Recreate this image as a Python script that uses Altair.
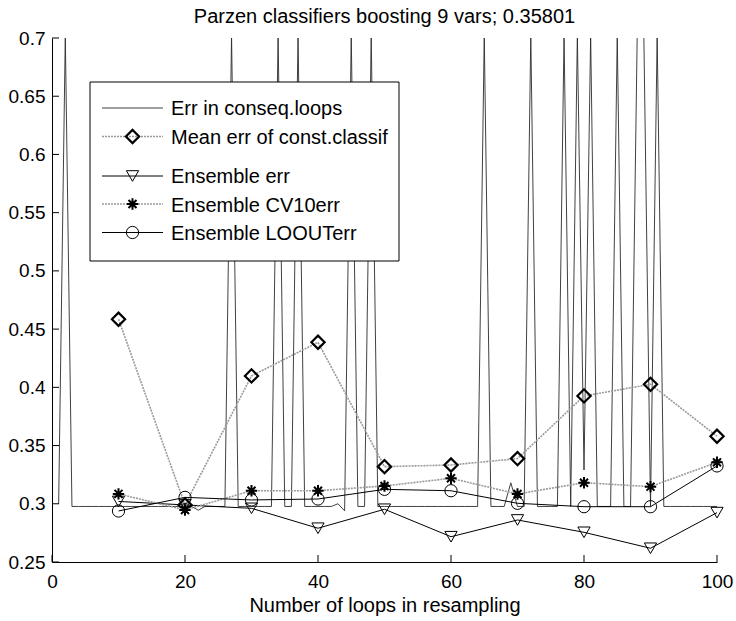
import altair as alt
import pandas as pd

FONT = "Liberation Sans"

# ---- data ----
ens_loops = [10, 20, 30, 40, 50, 60, 70, 80, 90, 100]
mean_err = [0.4585, 0.2990, 0.4098, 0.4387, 0.3319, 0.3333, 0.3388, 0.3926, 0.4026, 0.3580]
ens_err = [0.3020, 0.2990, 0.2961, 0.2790, 0.2953, 0.2717, 0.2861, 0.2755, 0.2618, 0.2924]
cv10_err = [0.3085, 0.2947, 0.3112, 0.3112, 0.3153, 0.3219, 0.3084, 0.3181, 0.3147, 0.3356]
loo_err = [0.2938, 0.3055, 0.3033, 0.3041, 0.3124, 0.3112, 0.3004, 0.2975, 0.2975, 0.3325]

conseq_loops = list(range(1, 101))
conseq_err = [
    0.3000, 0.7023, 0.2977, 0.2977, 0.2977, 0.2977, 0.2977, 0.2977, 0.2977, 0.2977,
    0.2977, 0.2977, 0.2977, 0.2977, 0.2977, 0.2977, 0.2977, 0.2977, 0.2977, 0.2977,
    0.2977, 0.2945, 0.2977, 0.2977, 0.2977, 0.2977, 0.7023, 0.2977, 0.2977, 0.2977,
    0.2977, 0.2977, 0.2977, 0.7023, 0.2977, 0.2977, 0.7023, 0.2977, 0.2977, 0.2977,
    0.2977, 0.2977, 0.3000, 0.2940, 0.7023, 0.2977, 0.2977, 0.7023, 0.2977, 0.2977,
    0.2977, 0.2977, 0.2977, 0.2977, 0.2977, 0.2977, 0.2977, 0.2977, 0.2977, 0.2977,
    0.2977, 0.2977, 0.2977, 0.2977, 0.7023, 0.2977, 0.2977, 0.2977, 0.3180, 0.2977,
    0.2977, 0.7023, 0.2977, 0.2977, 0.2977, 0.2977, 0.7023, 0.2977, 0.7023, 0.3290,
    0.7023, 0.2977, 0.2977, 0.2977, 0.7023, 0.2977, 0.2977, 0.7023, 0.7023, 0.2977,
    0.7023, 0.2977, 0.2977, 0.2977, 0.2977, 0.2977, 0.2977, 0.2977, 0.2977, 0.2977,
]

x_ticks = [0, 20, 40, 60, 80, 100]
y_ticks = [0.25, 0.3, 0.35, 0.4, 0.45, 0.5, 0.55, 0.6, 0.65, 0.7]

title_text = "Parzen classifiers boosting 9 vars; 0.35801"
x_title = "Number of loops in resampling"
legend_labels = ["Err in conseq.loops", "Mean err of const.classif",
                 "Ensemble err", "Ensemble CV10err", "Ensemble LOOUTerr"]

W, H = 665, 524

# ---- tables ----
ens_df = pd.DataFrame({
    "loop": ens_loops * 4,
    "series": ["mean"] * 10 + ["ens"] * 10 + ["cv10"] * 10 + ["loo"] * 10,
    "value": mean_err + ens_err + cv10_err + loo_err,
})
conseq_df = pd.DataFrame({"loop": conseq_loops, "value": conseq_err})

xs = alt.Scale(domain=[0, 100], nice=False, zero=False)
ys = alt.Scale(domain=[0.25, 0.7], nice=False, zero=False)

X = alt.X("loop:Q", scale=xs,
          axis=alt.Axis(values=x_ticks, format="d", title=x_title, grid=False,
                        ticks=False, domainColor="black", domainWidth=1,
                        labelFlush=False, labelOverlap=False,
                        titleY=49, titleBaseline="alphabetic", labelPadding=10))
Y = alt.Y("value:Q", scale=ys,
          axis=alt.Axis(values=y_ticks, format=".2~f", title=None, grid=False,
                        ticks=False, domainColor="black", domainWidth=1,
                        labelFlush=False, labelOverlap=False, labelPadding=7))

STAR = "M-1,0L1,0M0,-1L0,1M-0.7,-0.7L0.7,0.7M-0.7,0.7L0.7,-0.7"

conseq_line = alt.Chart(conseq_df).mark_line(
    color="#2b2b2b", strokeWidth=0.9, clip=True
).encode(x=X, y=Y)


def series_layers(key, line_kw, point_kw):
    base = alt.Chart(ens_df).transform_filter(alt.datum.series == key)
    ln = base.mark_line(**line_kw).encode(x=X, y=Y)
    pt = base.mark_point(filled=False, color="black", opacity=1, **point_kw).encode(x=X, y=Y)
    return [ln, pt]


GRAY_DOT = dict(color="#9a9a9a", strokeWidth=1.6, strokeDash=[2, 1])
BLACK = dict(color="black", strokeWidth=1.0)
DIAMOND = dict(shape="diamond", size=175, strokeWidth=2.2)
TRI = dict(shape="triangle-down", size=150, strokeWidth=1.0)
STARM = dict(shape=STAR, size=130, strokeWidth=2.0)
CIRC = dict(shape="circle", size=150, strokeWidth=1.0)

mean_l = series_layers("mean", GRAY_DOT, DIAMOND)
ens_l = series_layers("ens", BLACK, TRI)
cv_l = series_layers("cv10", GRAY_DOT, STARM)
loo_l = series_layers("loo", BLACK, CIRC)

# inward tick marks
ytick_df = pd.DataFrame({"value": y_ticks})
xtick_df = pd.DataFrame({"loop": x_ticks})
ytick_layer = alt.Chart(ytick_df).mark_rule(color="black", strokeWidth=1).encode(
    y=Y, x=alt.value(0), x2=alt.value(7))
xtick_layer = alt.Chart(xtick_df).mark_rule(color="black", strokeWidth=1).encode(
    x=X, y=alt.value(H), y2=alt.value(H - 7))

# ---- legend and title drawn in pixel space of the plot ----
one = pd.DataFrame({"a": [0]})
leg = []
leg.append(alt.Chart(one).mark_rect(fill="white", stroke="black", strokeWidth=1).encode(
    x=alt.value(38), x2=alt.value(347), y=alt.value(44), y2=alt.value(223)))
line_y = [70, 98.5, 138, 166, 194.5]
text_y = [77, 105.5, 145, 173.5, 202]
line_styles = [dict(color="#2b2b2b", strokeWidth=0.9), GRAY_DOT, BLACK, GRAY_DOT, BLACK]
markers = [None, DIAMOND, TRI, STARM, CIRC]
for i in range(5):
    leg.append(alt.Chart(one).mark_rule(**line_styles[i]).encode(
        x=alt.value(50), x2=alt.value(111), y=alt.value(line_y[i])))
    if markers[i] is not None:
        leg.append(alt.Chart(one).mark_point(filled=False, color="black", opacity=1,
                                             **markers[i]).encode(
            x=alt.value(80.5), y=alt.value(line_y[i])))
    leg.append(alt.Chart(one).mark_text(
        align="left", baseline="alphabetic", font=FONT, fontSize=20, color="black"
    ).encode(x=alt.value(119), y=alt.value(text_y[i]), text=alt.value(legend_labels[i])))

title_layer = alt.Chart(one).mark_text(
    align="center", baseline="alphabetic", font=FONT, fontSize=20, color="black"
).encode(x=alt.value(W / 2), y=alt.value(-15.5), text=alt.value(title_text))

chart = alt.layer(
    conseq_line, *mean_l, *ens_l, *cv_l, *loo_l, ytick_layer, xtick_layer, *leg, title_layer
).properties(
    width=W, height=H,
    background="white",
    autosize=alt.AutoSizeParams(type="none"),
    padding={"left": 52, "top": 38, "right": 19, "bottom": 59},
).configure_view(stroke="transparent").configure_axis(
    labelFont=FONT, labelFontSize=19, labelColor="black",
    titleFont=FONT, titleFontSize=20, titleFontWeight="normal", titleColor="black",
)

chart.save("out.html", embed_options={"renderer": "svg", "actions": False})
